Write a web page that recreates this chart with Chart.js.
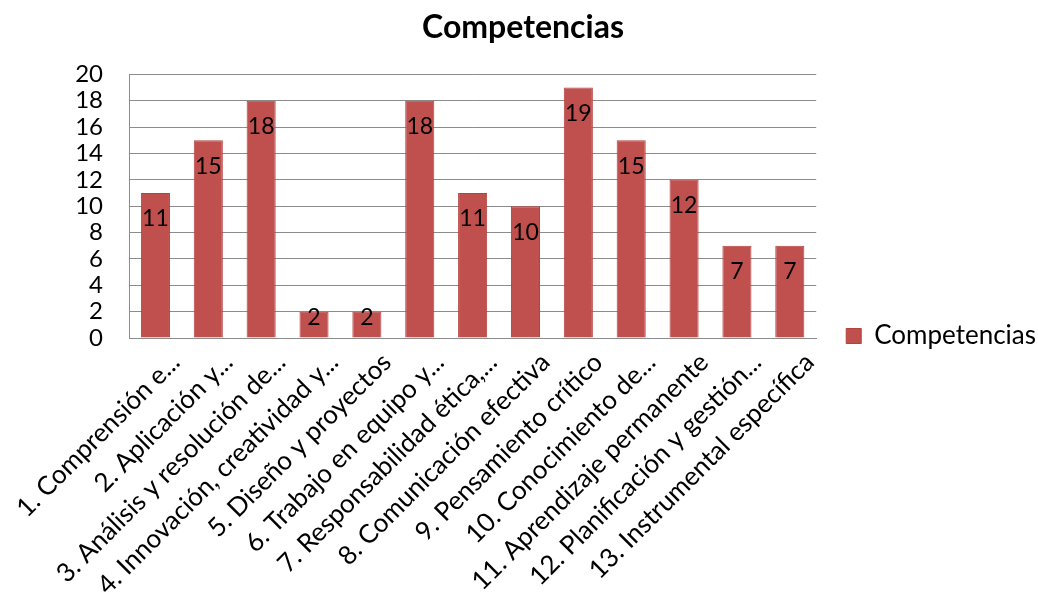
<!DOCTYPE html>
<html>
<head>
<meta charset="utf-8">
<script src="https://cdn.jsdelivr.net/npm/chart.js@4.4.1/dist/chart.umd.min.js"></script>
<style>
  html, body { margin: 0; padding: 0; background: #fff; }
  #wrap { width: 1038px; height: 604px; }
</style>
</head>
<body>
<div id="wrap"><canvas id="chart"></canvas></div>
<script>
// data
const categories = [
  '1. Comprensión e...',
  '2. Aplicación y...',
  '3. Análisis y resolución de...',
  '4. Innovación, creatividad y...',
  '5. Diseño y proyectos',
  '6. Trabajo en equipo y...',
  '7. Responsabilidad ética,...',
  '8. Comunicación efectiva',
  '9. Pensamiento crítico',
  '10. Conocimiento de...',
  '11. Aprendizaje permanente',
  '12. Planificación y gestión...',
  '13. Instrumental específica'
];
const values = [11, 15, 18, 2, 2, 18, 11, 10, 19, 15, 12, 7, 7];
const seriesName = 'Competencias';
const yTicks = [0, 2, 4, 6, 8, 10, 12, 14, 16, 18, 20];

const FONT = 'Lato, "Open Sans", sans-serif';

// value labels just inside the top of each bar (short bars: near the top edge)
const barLabels = {
  id: 'barLabels',
  afterDatasetsDraw(chart) {
    const ctx = chart.ctx;
    const meta = chart.getDatasetMeta(0);
    ctx.save();
    ctx.font = '23px ' + FONT;
    ctx.fillStyle = '#000';
    ctx.textAlign = 'center';
    ctx.textBaseline = 'middle';
    meta.data.forEach((bar, i) => {
      const h = bar.base - bar.y;
      const dy = h > 50 ? 26 : 6;
      ctx.fillText(String(values[i]), bar.x, bar.y + dy);
    });
    ctx.restore();
  }
};

new Chart(document.getElementById('chart'), {
  type: 'bar',
  data: {
    labels: categories,
    datasets: [{
      label: seriesName,
      data: values,
      backgroundColor: '#C0504D',
      borderColor: '#B4423F',
      borderWidth: 1,
      categoryPercentage: 1,
      barPercentage: 0.55
    }]
  },
  options: {
    responsive: true,
    maintainAspectRatio: false,
    animation: false,
    layout: { padding: { left: 0, right: -8, top: 0, bottom: 0 } },
    plugins: {
      title: {
        display: true,
        text: 'Competencias',
        color: '#000',
        font: { family: FONT, size: 32, weight: 'bold' },
        padding: { top: 8, bottom: 28 }
      },
      legend: {
        position: 'right',
        // empty legend title only pushes the item down to where the reference has it
        title: { display: true, text: '', font: { size: 10 }, padding: { top: 56, bottom: 0 } },
        labels: {
          color: '#000',
          font: { family: FONT, size: 26 },
          boxWidth: 15,
          boxHeight: 15,
          padding: 30
        }
      },
      tooltip: { enabled: false }
    },
    scales: {
      x: {
        afterFit(axis) {
          axis.height = 266;
          // the first rotated label may run into the left margin, as in the reference
          axis.paddingLeft = 0;
          axis.paddingRight = 0;
        },
        grid: { display: false, drawTicks: false },
        border: { color: '#8c8c8c' },
        ticks: {
          color: '#000',
          font: { family: FONT, size: 26 },
          minRotation: 45,
          maxRotation: 45,
          autoSkip: false,
          labelOffset: 20,
          padding: 9
        }
      },
      y: {
        min: 0,
        max: 20,
        afterFit(axis) { axis.width = 129; },
        afterBuildTicks(axis) {
          axis.ticks = yTicks.map(v => ({ value: v }));
        },
        grid: { color: '#8c8c8c', drawTicks: false },
        border: { color: '#8c8c8c' },
        ticks: {
          color: '#000',
          font: { family: FONT, size: 24 },
          autoSkip: false,
          padding: 26
        }
      }
    }
  },
  plugins: [barLabels]
});
</script>
</body>
</html>
